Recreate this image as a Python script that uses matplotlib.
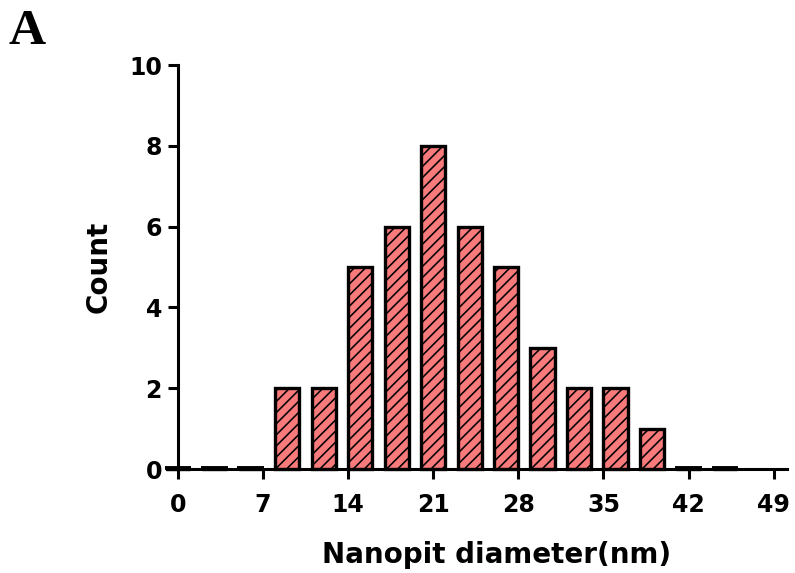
import numpy as np
import matplotlib

matplotlib.use("Agg")
import matplotlib.pyplot as plt

# histogram of nanopit diameters (bin centres every 3 nm)
bin_centers = [0, 3, 6, 9, 12, 15, 18, 21, 24, 27, 30, 33, 36, 39, 42, 45]
counts = [0, 0, 0, 2, 2, 5, 6, 8, 6, 5, 3, 2, 2, 1, 0, 0]
x_ticks = [0, 7, 14, 21, 28, 35, 42, 49]
y_ticks = [0, 2, 4, 6, 8, 10]

plt.rcParams["font.family"] = ["DejaVu Sans"]
plt.rcParams["font.weight"] = "bold"
plt.rcParams["hatch.linewidth"] = 1.15
plt.rcParams["hatch.color"] = "#552626"

fig = plt.figure(figsize=(7.95, 5.73), dpi=100)
ax = fig.add_axes([0.210, 0.1815, 0.780, 0.705])

ax.bar(
    bin_centers,
    counts,
    width=2.0,
    color="#f87a7a",
    edgecolor="black",
    linewidth=2.4,
    hatch="///",
    clip_on=False,
    zorder=3,
)
# empty bins show up as short thick dashes sitting on the axis
empty = [c for c, n in zip(bin_centers, counts) if n == 0]
ax.hlines([0.02] * len(empty), [c - 1.1 for c in empty], [c + 1.1 for c in empty],
          color="black", linewidth=2.8, clip_on=False, zorder=5)

ax.set_xlim(-0.9, 50.1)
ax.set_ylim(0, 10)
ax.set_xticks(x_ticks)
ax.set_yticks(y_ticks)

for side in ("top", "right"):
    ax.spines[side].set_visible(False)
ax.spines["left"].set_position(("data", 0))
ax.spines["left"].set_linewidth(2.2)
ax.spines["bottom"].set_linewidth(2.2)
ax.spines["bottom"].set_zorder(4)
ax.tick_params(axis="both", direction="out", length=7.5, width=2.2,
               labelsize=17)
ax.tick_params(axis="x", pad=10)
ax.tick_params(axis="y", pad=4)

ax.set_xlabel("Nanopit diameter(nm)", fontsize=20, fontweight="bold")
ax.set_ylabel("Count", fontsize=20, fontweight="bold")
ax.xaxis.set_label_coords(0.531, -0.178)
ax.yaxis.set_label_coords(-0.087, 0.50)

fig.text(0.011, 0.984, "A", fontsize=37, fontweight="bold",
         family="Liberation Serif", va="top", ha="left")

fig.savefig("out.png", dpi=100)
